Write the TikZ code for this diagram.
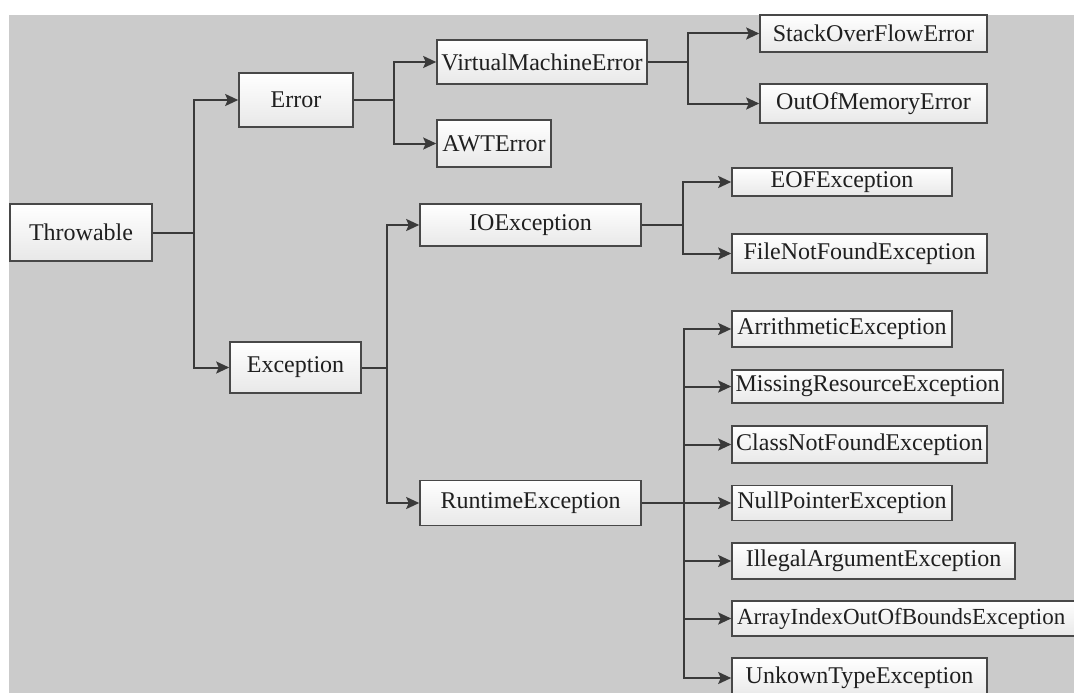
\documentclass[tikz,border=0pt]{standalone}
\usepackage{fontspec}
\setmainfont{Liberation Serif}
\usetikzlibrary{arrows.meta}

\definecolor{panelgray}{HTML}{CBCBCB}
\definecolor{inkgray}{HTML}{3A3A3A}
\definecolor{boxgray}{HTML}{484848}

\begin{document}
\begin{tikzpicture}[
    x=1pt, y=-1pt,
    clsbox/.style={draw=boxgray, line width=1.6pt, rectangle, inner sep=0pt,
      top color=white, bottom color=black!9, text=black!88,
      font=\fontsize{24}{28}\selectfont},
    trunk/.style={draw=inkgray, line width=2pt},
    linkarc/.style={trunk, -{Stealth[length=13pt, width=12pt, inset=2.5pt]}},
    ]
  \useasboundingbox (0,0) rectangle (1074,693);
  \fill[panelgray] (9,15) rectangle (1074,693);

  \node[clsbox, minimum width=142, minimum height=57] (thr) at (81, 232.5) {Throwable};
  \node[clsbox, minimum width=114, minimum height=54] (err) at (296, 100) {Error};
  \node[clsbox, minimum width=131, minimum height=51] (exc) at (295.5, 367.5) {Exception};
  \node[clsbox, minimum width=210, minimum height=44] (vme) at (542, 62) {VirtualMachineError};
  \node[clsbox, minimum width=114, minimum height=47] (awt) at (494, 143.5) {AWTError};
  \node[clsbox, minimum width=221, minimum height=42] (ioe) at (530.5, 225) {IOException};
  \node[clsbox, minimum width=221, minimum height=45] (rte) at (530.5, 503) {RuntimeException};
  \node[clsbox, minimum width=227, minimum height=37] (sof) at (873.5, 33.5) {StackOverFlowError};
  \node[clsbox, minimum width=227, minimum height=39] (oom) at (873.5, 103.5) {OutOfMemoryError};
  \node[clsbox, minimum width=220, minimum height=28] (eof) at (842, 182) {EOFException};
  \node[clsbox, minimum width=255, minimum height=39] (fnf) at (859.5, 253.5) {FileNotFoundException};
  \node[clsbox, minimum width=220, minimum height=36] (ari) at (842, 329) {ArrithmeticException};
  \node[clsbox, minimum width=271, minimum height=33] (mre) at (867.5, 386.5) {MissingResourceException};
  \node[clsbox, minimum width=255, minimum height=37] (cnf) at (859.5, 444.5) {ClassNotFoundException};
  \node[clsbox, minimum width=220, minimum height=35] (npe) at (842, 503) {NullPointerException};
  \node[clsbox, minimum width=283, minimum height=36] (iae) at (873.5, 561) {IllegalArgumentException};
  \node[clsbox, minimum width=350, minimum height=35, text width=340, align=left,
    font=\fontsize{23}{27}\selectfont] (aio) at (907, 618.5) {ArrayIndexOutOfBoundsException};
  \node[clsbox, minimum width=255, minimum height=40] (ute) at (859.5, 678) {UnkownTypeException};

  % branch points
  \coordinate (jThr) at (194, 232.5);
  \coordinate (jErr) at (394, 100);
  \coordinate (jExc) at (387, 367.5);
  \coordinate (jVme) at (688, 62);
  \coordinate (jIoe) at (683, 225);
  \coordinate (jRte) at (684, 503);

  \draw[trunk] (thr) -- (jThr);
  \draw[linkarc] (jThr) |- (err);
  \draw[linkarc] (jThr) |- (exc);

  \draw[trunk] (err) -- (jErr);
  \draw[linkarc] (jErr) |- (vme);
  \draw[linkarc] (jErr) |- (awt);

  \draw[trunk] (exc) -- (jExc);
  \draw[linkarc] (jExc) |- (ioe);
  \draw[linkarc] (jExc) |- (rte);

  \draw[trunk] (vme) -- (jVme);
  \draw[linkarc] (jVme) |- (sof);
  \draw[linkarc] (jVme) |- (oom);

  \draw[trunk] (ioe) -- (jIoe);
  \draw[linkarc] (jIoe) |- (eof);
  \draw[linkarc] (jIoe) |- (fnf);

  \draw[trunk] (rte) -- (jRte);
  \foreach \k in {ari, mre, cnf, iae, aio, ute}
    \draw[linkarc] (jRte) |- (\k);
  \draw[linkarc] (jRte) -- (npe);
\end{tikzpicture}
\end{document}
